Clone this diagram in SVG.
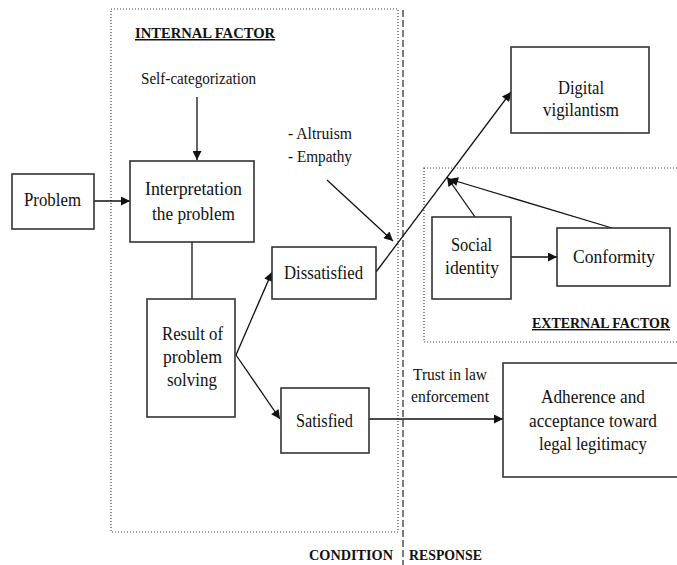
<svg xmlns="http://www.w3.org/2000/svg" width="677" height="565" viewBox="0 0 677 565">
<style>
  text { font-family: "Liberation Serif", "Times New Roman", serif; fill: #111; }
  .n { font-size: 19px; text-anchor: middle; }
  .s { font-size: 16px; }
  .h { font-size: 15px; font-weight: bold; text-decoration: underline; }
  .b { font-size: 15px; font-weight: bold; }
  .box { fill: #fff; stroke: #333; stroke-width: 1.6; }
  .dot { fill: none; stroke: #444; stroke-width: 1.2; stroke-dasharray: 1 2; }
  .dash { fill: none; stroke: #444; stroke-width: 1.4; stroke-dasharray: 7 3; }
  .c { fill: none; stroke: #111; stroke-width: 1.3; }
  .a { marker-end: url(#arr); }
</style>
<defs>
  <marker id="arr" viewBox="0 0 10 10" refX="10" refY="5" markerWidth="10" markerHeight="9" markerUnits="userSpaceOnUse" orient="auto">
    <path d="M0,0 L10,5 L0,10 z" fill="#111"/>
  </marker>
</defs>
<rect width="677" height="565" fill="#fff"/>

<g id="regions">
  <rect class="dot" x="111" y="9" width="287" height="523"/>
  <rect class="dot" x="424" y="168" width="260" height="174"/>
  <line class="dash" x1="403" y1="10" x2="403" y2="565"/>
  <text class="h" x="135" y="38" textLength="140" lengthAdjust="spacingAndGlyphs">INTERNAL FACTOR</text>
  <text class="h" x="532" y="328" style="font-size:14px" textLength="138" lengthAdjust="spacingAndGlyphs">EXTERNAL FACTOR</text>
  <text class="b" x="309" y="560" textLength="84" lengthAdjust="spacingAndGlyphs">CONDITION</text>
  <text class="b" x="409" y="560" textLength="73" lengthAdjust="spacingAndGlyphs">RESPONSE</text>
</g>

<g id="connectors">
  <line class="c a" x1="197" y1="97" x2="197" y2="160"/>
  <line class="c a" x1="94" y1="201" x2="130" y2="201"/>
  <line class="c" x1="192" y1="242" x2="192" y2="299"/>
  <line class="c a" x1="236" y1="355" x2="272" y2="272"/>
  <line class="c a" x1="236" y1="355" x2="280" y2="419"/>
  <line class="c a" x1="369" y1="419" x2="503" y2="419"/>
  <line class="c a" x1="376" y1="272" x2="511" y2="92"/>
  <line class="c a" x1="327" y1="180" x2="393" y2="241"/>
  <line class="c a" x1="511" y1="257" x2="557" y2="257"/>
  <line class="c a" x1="475" y1="217" x2="447" y2="177"/>
  <line class="c a" x1="612" y1="228" x2="449" y2="179"/>
</g>

<g id="self-categorization">
  <text class="s" x="141" y="84" textLength="115" lengthAdjust="spacingAndGlyphs">Self-categorization</text>
</g>

<g id="altruism-empathy">
  <text class="s" x="288" y="139" textLength="64" lengthAdjust="spacingAndGlyphs">- Altruism</text>
  <text class="s" x="288" y="162" textLength="64" lengthAdjust="spacingAndGlyphs">- Empathy</text>
</g>

<g id="trust">
  <text class="s" x="413" y="380" textLength="74" lengthAdjust="spacingAndGlyphs">Trust in law</text>
  <text class="s" x="411" y="402" textLength="78" lengthAdjust="spacingAndGlyphs">enforcement</text>
</g>

<g id="problem">
  <rect class="box" x="12" y="174" width="82" height="55"/>
  <text class="n" x="52.5" y="206" textLength="57" lengthAdjust="spacingAndGlyphs">Problem</text>
</g>

<g id="interpretation">
  <rect class="box" x="130" y="161" width="124" height="81"/>
  <text class="n" x="193.5" y="195" textLength="97" lengthAdjust="spacingAndGlyphs">Interpretation</text>
  <text class="n" x="193.5" y="220" textLength="83" lengthAdjust="spacingAndGlyphs">the problem</text>
</g>

<g id="result">
  <rect class="box" x="147" y="299" width="88" height="118"/>
  <text class="n" x="192.5" y="340" textLength="61" lengthAdjust="spacingAndGlyphs">Result of</text>
  <text class="n" x="192.5" y="363" textLength="59" lengthAdjust="spacingAndGlyphs">problem</text>
  <text class="n" x="192" y="386" textLength="50" lengthAdjust="spacingAndGlyphs">solving</text>
</g>

<g id="dissatisfied">
  <rect class="box" x="272" y="247" width="104" height="52"/>
  <text class="n" x="323.5" y="279" textLength="79" lengthAdjust="spacingAndGlyphs">Dissatisfied</text>
</g>

<g id="satisfied">
  <rect class="box" x="281" y="388" width="88" height="65"/>
  <text class="n" x="324.5" y="427" textLength="57" lengthAdjust="spacingAndGlyphs">Satisfied</text>
</g>

<g id="digital-vigilantism">
  <rect class="box" x="511" y="47" width="138" height="86"/>
  <text class="n" x="581" y="94" textLength="46" lengthAdjust="spacingAndGlyphs">Digital</text>
  <text class="n" x="581" y="116" textLength="76" lengthAdjust="spacingAndGlyphs">vigilantism</text>
</g>

<g id="social-identity">
  <rect class="box" x="432" y="217" width="79" height="82"/>
  <text class="n" x="471.5" y="251" textLength="41" lengthAdjust="spacingAndGlyphs">Social</text>
  <text class="n" x="472" y="274" textLength="54" lengthAdjust="spacingAndGlyphs">identity</text>
</g>

<g id="conformity">
  <rect class="box" x="557" y="228" width="113" height="58"/>
  <text class="n" x="614" y="263" textLength="82" lengthAdjust="spacingAndGlyphs">Conformity</text>
</g>

<g id="adherence">
  <rect class="box" x="503" y="363" width="190" height="114"/>
  <text class="n" x="593" y="403" textLength="104" lengthAdjust="spacingAndGlyphs">Adherence and</text>
  <text class="n" x="593" y="427" textLength="128" lengthAdjust="spacingAndGlyphs">acceptance toward</text>
  <text class="n" x="593" y="450" textLength="108" lengthAdjust="spacingAndGlyphs">legal legitimacy</text>
</g>
</svg>
